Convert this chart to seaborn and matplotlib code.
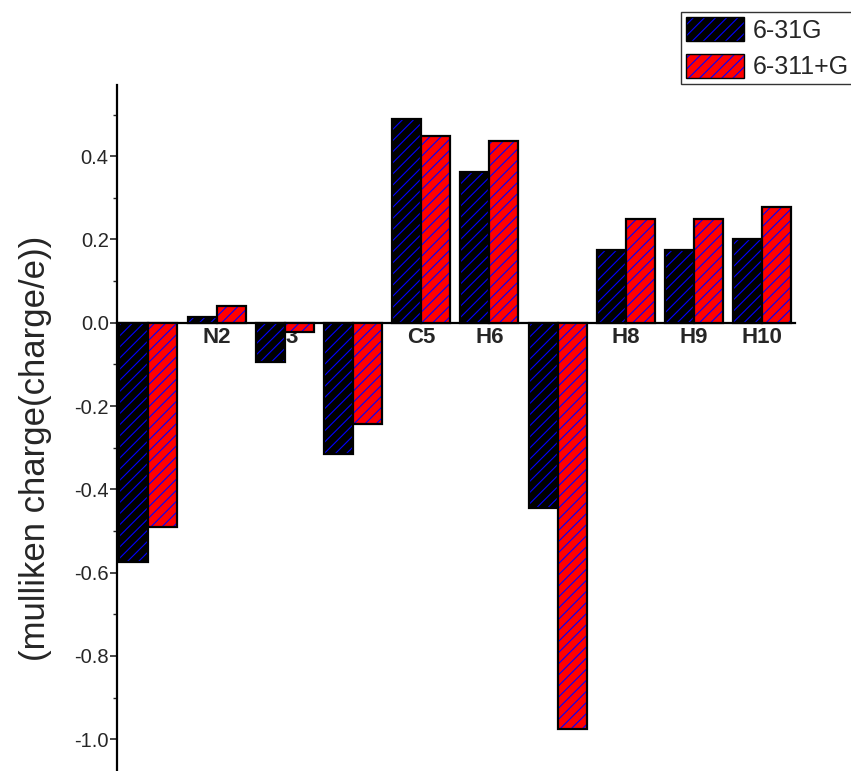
import numpy as np
import pandas as pd
import matplotlib
matplotlib.use("Agg")
import matplotlib.pyplot as plt
import seaborn as sns

# atoms and mulliken charges
atoms = ["N1", "N2", "C3", "C4", "C5", "H6", "N7", "H8", "H9", "H10"]
basis_sets = ["6-31G", "6-311+G"]
charge_631g = [-0.575, 0.014, -0.095, -0.316, 0.490, 0.361, -0.446, 0.175, 0.175, 0.200]
charge_6311g = [-0.490, 0.041, -0.023, -0.242, 0.449, 0.437, -0.975, 0.250, 0.250, 0.279]
bar_colors = ["#000000", "#ff0000"]

df = pd.DataFrame({
    "atom": atoms * 2,
    "basis": [basis_sets[0]] * len(atoms) + [basis_sets[1]] * len(atoms),
    "charge": charge_631g + charge_6311g,
})

sns.set_style("white")
plt.rcParams["font.family"] = ["Liberation Sans", "DejaVu Sans"]
plt.rcParams["hatch.linewidth"] = 0.8

BLUE = (0.0, 0.0, 1.0, 1.0)

fig = plt.figure(figsize=(8.51, 7.71), dpi=100)
ax = fig.add_axes([117 / 851, 1 / 771, (795 - 117) / 851, (770 - 85) / 771])

sns.barplot(data=df, x="atom", y="charge", hue="basis", order=atoms,
            hue_order=basis_sets, palette=bar_colors, saturation=1,
            width=0.85, ax=ax, legend=False, zorder=3)

# black outline with blue hatch lines
for p in ax.patches:
    p.set_edgecolor("black")
    p.set_linewidth(1.6)
    p.set_hatch("///")
    p._hatch_color = BLUE

ax.set_ylim(-1.074, 0.571)
ax.set_xlim(-0.46, 9.48)
ax.spines["top"].set_visible(False)
ax.spines["right"].set_visible(False)
ax.spines["bottom"].set_position(("data", 0))
for s in ["bottom", "left"]:
    ax.spines[s].set_linewidth(1.6)
    ax.spines[s].set_color("black")

ax.set_yticks(np.arange(-1.0, 0.41, 0.2))
ax.set_yticks(np.arange(-1.0, 0.55, 0.1), minor=True)
ax.yaxis.set_major_formatter(
    matplotlib.ticker.FuncFormatter(lambda v, pos: "%.1f" % (0.0 if abs(v) < 1e-9 else v)))
ax.tick_params(axis="y", which="major", direction="out", length=5, width=1.2,
               labelsize=14.5, pad=1, left=True)
ax.tick_params(axis="y", which="minor", direction="out", length=3, width=1.0, left=True)
ax.tick_params(axis="x", length=0, labelsize=16, pad=3)
for lab in ax.get_xticklabels():
    lab.set_fontweight("bold")

ax.set_xlabel("")
ax.set_ylabel("")
fig.text(36 / 851, 1 - 448 / 771, "(mulliken charge(charge/e))", rotation=90,
         ha="center", va="center", fontsize=25)

handles = [matplotlib.patches.Patch(facecolor=c, edgecolor="black", hatch="///")
           for c in bar_colors]
for h in handles:
    h._hatch_color = BLUE
leg = fig.legend(handles, basis_sets, loc="upper left",
                 bbox_to_anchor=(681 / 851, 1 - 12 / 771), fontsize=18,
                 frameon=True, fancybox=False, edgecolor="black",
                 handlelength=2.3, handleheight=1.12, borderpad=0.2,
                 labelspacing=0.44, handletextpad=0.35, borderaxespad=0)
leg.get_frame().set_linewidth(1.0)

fig.savefig("out.png", dpi=100)
